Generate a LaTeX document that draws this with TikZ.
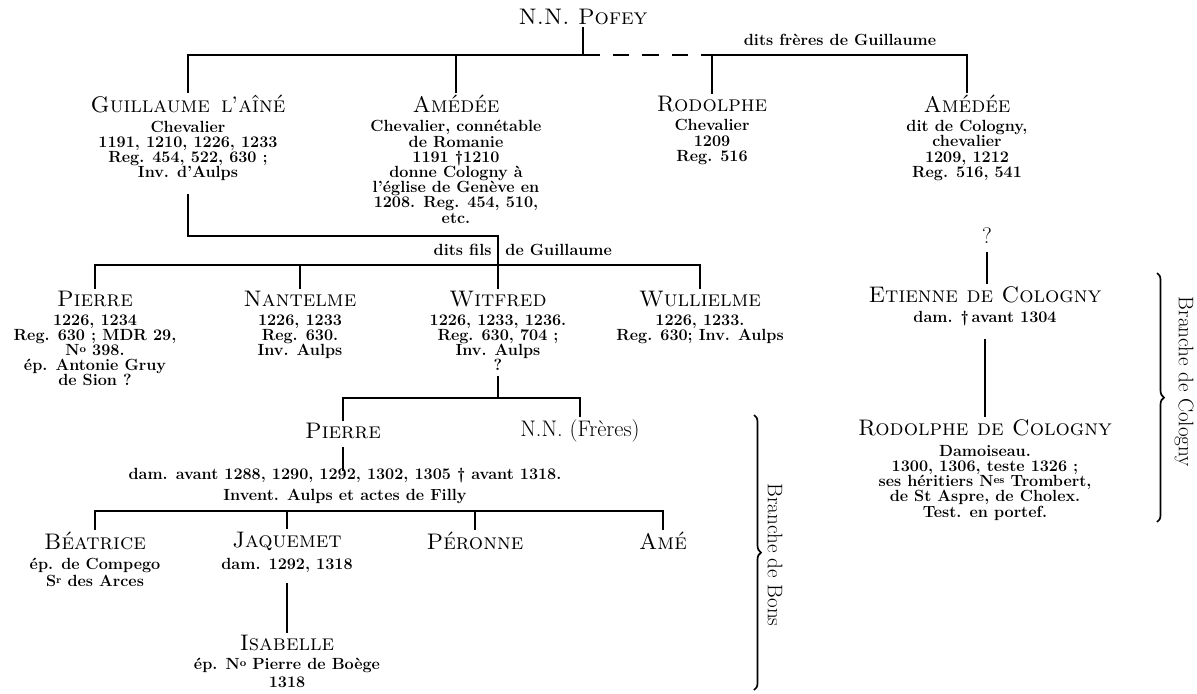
\documentclass[tikz,border=0pt]{standalone}
\usepackage{fontspec}
\usetikzlibrary{positioning,decorations.pathreplacing}
\newcommand\exposant[1]{\raisebox{.5ex}{\fontsize{7.5}{7.5}\selectfont #1}}
\begin{document}
\begin{tikzpicture}[x=0.025cm,y=-0.025cm,line width=1.5pt,
	nom/.style={font=\fontsize{16}{18}\selectfont\scshape,inner sep=1pt},
	det/.style={font=\fontsize{11.5}{10.8}\selectfont\bfseries,align=center,inner sep=1pt},
	detb/.style={font=\fontsize{11.5}{12.5}\selectfont\bfseries,align=center,inner sep=1pt},
	accol/.style={decorate,decoration={brace,amplitude=5pt},line width=1.2pt},
	branche/.style={rotate=-90,font=\fontsize{15}{17}\selectfont}]
	\useasboundingbox (0,0) rectangle (1197,693);
	\node[nom] (pofey) at (583,17) {N.N. Pofey};
	\node[nom] (guil) at (188,104) {Guillaume\enspace l’aîné};
	\node[det,below=2pt of guil] (guild) {Chevalier\\1191, 1210, 1226, 1233\\Reg. 454, 522, 630 ;\\Inv. d’Aulps};
	\node[nom] (amed) at (456,104) {Amédée};
	\node[det,below=2pt of amed] (amedd) {Chevalier, connétable\\de Romanie\\1191 \textdagger1210\\donne Cologny à\\l’église de Genève en\\1208. Reg. 454, 510,\\etc.};
	\node[nom] (rodo) at (712,104) {Rodolphe};
	\node[det,below=2pt of rodo] (rodod) {Chevalier\\1209\\Reg. 516};
	\node[nom] (amco) at (967,104) {Amédée};
	\node[det,below=2pt of amco] (amcod) {dit de Cologny,\\chevalier\\1209, 1212\\Reg. 516, 541};
	\node[det] (freres) at (840,40) {dits frères de Guillaume};
	\coordinate (h1) at (583,55);
	\coordinate (h2) at (712,55);
	\draw (guil.north) |- (h1) -- (pofey.south);
	\draw (amed.north) -- (amed.north |- h1);
	\draw[dash pattern=on 12pt off 9pt] (h1) -- (h2);
	\draw (rodo.north) -- (h2) -| (amco.north);
	\node[nom] (pier) at (95,299) {Pierre};
	\node[det,below=2pt of pier] (pierd) {1226, 1234\\Reg. 630 ; MDR 29,\\N\exposant{o} 398.\\ép. Antonie Gruy\\de Sion ?};
	\node[nom] (nant) at (300,299) {Nantelme};
	\node[det,below=2pt of nant] (nantd) {1226, 1233\\Reg. 630.\\Inv. Aulps};
	\node[nom] (witf) at (498,299) {Witfred};
	\node[det,below=2pt of witf] (witfd) {1226, 1233, 1236.\\Reg. 630, 704 ;\\Inv. Aulps\\?};
	\node[nom] (wull) at (700,299) {Wullielme};
	\node[det,below=2pt of wull] (wulld) {1226, 1233.\\Reg.\enspace 630; Inv.\enspace Aulps};
	\coordinate (fils) at (498,236);
	\coordinate (r2) at (498,265);
	\draw ([yshift=-8pt]guild.south) |- (fils) -- (witf.north);
	\draw (pier.north) |- (r2) -| (wull.north);
	\draw (nant.north) -- (nant.north |- r2);
	\node[det,anchor=east] (ditsfils) at (494,250) {dits fils};
	\node[det,anchor=west] (degui) at (503,250) {de Guillaume};
	\node[nom] (pbon) at (343,431) {Pierre};
	\node[font=\fontsize{16}{18}\selectfont,inner sep=1pt] (nnfr) at (580,431) {N.N. (Frères)};
	\coordinate (w2) at (498,398);
	\draw ([yshift=-2pt]witfd.south) -- (w2);
	\draw (pbon.north) |- (w2) -| (nnfr.north);
	\node[detb,font=\fontsize{11.5}{15.5}\selectfont\bfseries] (pbond) at (345,486) {dam. avant 1288, 1290, 1292, 1302, 1305 \textdagger\ avant 1318.\\Invent. Aulps et actes de Filly};
	\draw ([yshift=-4pt]pbon.south) -- ([yshift=-4pt]pbon.south |- pbond.north);
	\node[nom] (beat) at (95,541) {Béatrice};
	\node[detb,below=2pt of beat] (beatd) {ép. de Compego\\S\exposant{r} des Arces};
	\node[nom] (jaqu) at (287,541) {Jaquemet};
	\node[detb,below=2pt of jaqu] (jaqud) {dam. 1292, 1318};
	\node[nom] (pero) at (475,541) {Péronne};
	\node[nom] (amee) at (663,541) {Amé};
	\coordinate (c3) at (345,511);
	\draw (beat.north) |- (c3) -| (amee.north);
	\draw (jaqu.north) -- (jaqu.north |- c3);
	\draw (pero.north) -- (pero.north |- c3);
	\node[nom] (isab) at (287,643) {Isabelle};
	\node[detb,below=2pt of isab] (isabd) {ép. N\exposant{o} Pierre de Boège\\1318};
	\draw ([yshift=-6pt]jaqud.south) -- (isab.north);
	\node[font=\fontsize{16}{18}\selectfont,inner sep=1pt] (qcol) at (987,236) {?};
	\node[nom] (etie) at (985,295) {Etienne de Cologny};
	\node[det,below=2pt of etie] (etied) {dam. \textdagger\,avant 1304};
	\node[nom] (rcol) at (985,428) {Rodolphe de Cologny};
	\node[det,below=3pt of rcol] (rcold) {Damoiseau.\\1300, 1306, teste 1326 ;\\ses héritiers N\exposant{es} Trombert,\\de St Aspre, de Cholex.\\Test. en portef.};
	\draw ([yshift=-4pt]qcol.south) -- (qcol.south |- etie.north);
	\draw ([yshift=-8pt]etied.south) -- (rcol.north);
	\draw[accol] (1157,273) -- (1157,522);
	\node[branche] (brcol) at (1184,382) {Branche de Cologny};
	\draw[accol] (754,415) -- (754,690);
	\node[branche] (brbons) at (775,555) {Branche de Bons};
\end{tikzpicture}
\end{document}
